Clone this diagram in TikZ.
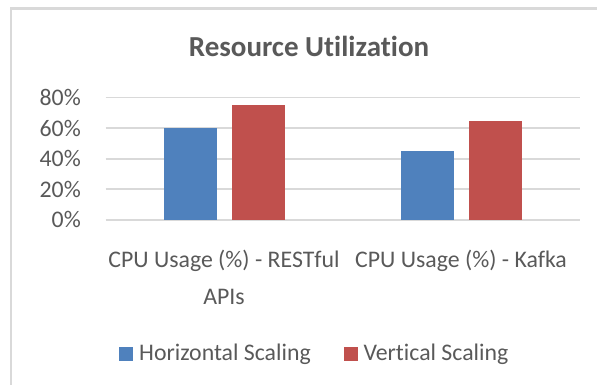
\documentclass[tikz,border=0pt]{standalone}
\usepackage{fontspec}
\setmainfont{Carlito}[Ligatures=NoCommon]
\definecolor{hblue}{HTML}{4F81BD}
\definecolor{vred}{HTML}{C0504D}
\definecolor{gridc}{HTML}{D9D9D9}
\definecolor{txtc}{HTML}{595959}
\tikzset{
  gridline/.style={draw=gridc, line width=1.6pt},
  lbl/.style={inner sep=0pt, text=txtc, font=\fontsize{23.8}{36.7}\selectfont},
  ttl/.style={inner sep=0pt, text=txtc, font=\fontsize{29}{34}\selectfont\bfseries},
  hbar/.style={fill=hblue, draw=none},
  vbar/.style={fill=vred, draw=none},
}
\begin{document}
\begin{tikzpicture}[x=1pt,y=-1pt]
\useasboundingbox (0,0) rectangle (597,385);
% border
\draw[draw=gridc, line width=2.5pt] (11,400) -- (11,8.5) -- (610,8.5);
% title
\node[ttl, anchor=base] (title) at (309,56.7) {Resource Utilization};
% gridlines and y labels
\foreach \v/\n in {0/g0,20/g20,40/g40,60/g60,80/g80}{
  \path[gridline] (105.7,219.7-1.525*\v) coordinate (\n a) -- (580,219.7-1.525*\v) coordinate (\n b);
  \node[lbl, anchor=east] (y\n) at (81,219.7-1.525*\v) {\v\%};
}
% bars
\fill[hbar] (164.3,219.7) rectangle (217,219.7-1.525*60);
\fill[vbar] (231.7,219.7) rectangle (284.7,219.7-1.525*75);
\fill[hbar] (401,219.7) rectangle (454.3,219.7-1.525*45);
\fill[vbar] (469,219.7) rectangle (521.7,219.7-1.525*65);
% category labels
\node[lbl, anchor=base, align=center] (cat1) at (224,304) {CPU Usage (\%) - RESTful\\APIs};
\node[lbl, anchor=base] (cat2) at (461,267.3) {CPU Usage (\%) - Kafka};
% legend
\fill[hblue] (119.3,346.7) rectangle (133.3,360.7);
\node[lbl, anchor=base west] (leg1) at (139,360.7) {Horizontal Scaling};
\fill[vred] (344.3,346.7) rectangle (358.3,360.7);
\node[lbl, anchor=base west] (leg2) at (363.3,360.7) {Vertical Scaling};
\end{tikzpicture}
\end{document}
